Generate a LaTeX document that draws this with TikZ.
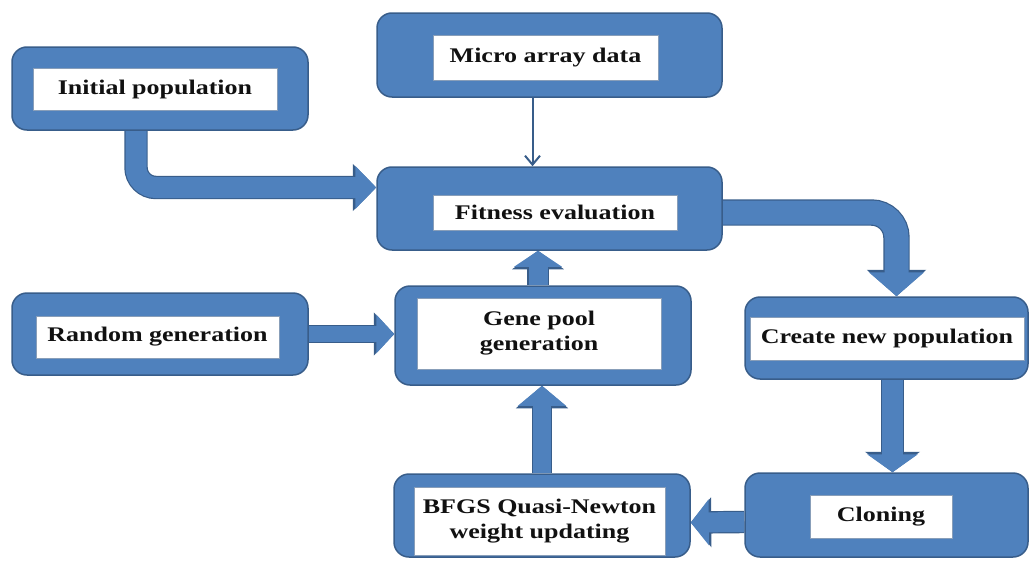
\documentclass[tikz,border=0pt]{standalone}
\usepackage{fontspec}
\setmainfont{Liberation Serif}[FakeStretch=1.25]
\usetikzlibrary{arrows.meta,calc}
\definecolor{boxblue}{HTML}{4F81BD}
\definecolor{edgeblue}{HTML}{385D8A}
\definecolor{txt}{HTML}{111111}
\pgfdeclarelayer{bg}
\pgfsetlayers{bg,main}
\tikzset{
  outerbox/.style={rectangle, rounded corners=15pt, fill=boxblue, draw=edgeblue, line width=1.5pt, inner sep=0pt},
  innerbox/.style={rectangle, fill=white, draw=edgeblue!60, line width=0.6pt, inner sep=0pt, align=center,
     text=txt, font=\fontsize{20.8}{25}\selectfont\bfseries},
  blockedge/.style n args={3}{draw=edgeblue, line width=#1+2.4pt, -{Triangle[width=#2+4pt,length=#3+2.5pt]}},
  blockfill/.style n args={3}{draw=boxblue, line width=#1, -{Triangle[width=#2,length=#3]}},
  thinarrow/.style={draw=edgeblue, line width=2pt, -{Straight Barb[width=15pt,length=9pt]}}
}
\begin{document}
\begin{tikzpicture}[x=1pt,y=-1pt]
\path[use as bounding box] (0,0) rectangle (1029,562);

% outer boxes
\node[outerbox, minimum width=296pt, minimum height=83pt] (initO) at (160,88.5) {};
\node[outerbox, minimum width=345pt, minimum height=84pt] (microO) at (549.5,55) {};
\node[outerbox, minimum width=345pt, minimum height=83pt] (fitO) at (549.5,208.5) {};
\node[outerbox, minimum width=296pt, minimum height=82pt] (randO) at (160,334) {};
\node[outerbox, minimum width=296pt, minimum height=99pt] (geneO) at (543,335.5) {};
\node[outerbox, minimum width=283pt, minimum height=82pt] (crO) at (886.5,338) {};
\node[outerbox, minimum width=283pt, minimum height=84pt] (clO) at (886.5,515) {};
\node[outerbox, minimum width=296pt, minimum height=83pt] (bfO) at (542,515.5) {};

% inner boxes with text
\node[innerbox, minimum width=244pt, minimum height=42pt] (init) at (155,89) {Initial population};
\node[innerbox, minimum width=225pt, minimum height=45pt] (micro) at (545.5,57.5) {Micro array data};
\node[innerbox, minimum width=244pt, minimum height=35pt] (fit) at (555,212.5) {Fitness evaluation};
\node[innerbox, minimum width=243pt, minimum height=42pt] (rand) at (157.5,337) {Random generation};
\node[innerbox, minimum width=244pt, minimum height=71pt] (gene) at (539,333.5) {Gene pool\\generation};
\node[innerbox, minimum width=274pt, minimum height=43pt] (cr) at (887,338.5) {Create new population};
\node[innerbox, minimum width=142pt, minimum height=43pt] (cl) at (881,516.5) {Cloning};
\node[innerbox, minimum width=251pt, minimum height=68pt] (bf) at (539.5,521) {BFGS Quasi-Newton\\weight updating};

\begin{pgfonlayer}{bg}
% Initial population -> Fitness evaluation
\draw[blockedge={21pt}{42pt}{21pt}, rounded corners=20pt] ([xshift=-24pt]initO.south) |- ([yshift=21pt]fitO.west);
\draw[blockfill={21pt}{42pt}{21pt}, rounded corners=20pt] ([xshift=-24pt]initO.south) |- ([yshift=21pt]fitO.west);
% Fitness evaluation -> Create new population
\draw[blockedge={24pt}{54pt}{24pt}, rounded corners=25pt] ([yshift=-4pt]fitO.east) -| ([xshift=10pt]crO.north);
\draw[blockfill={24pt}{54pt}{24pt}, rounded corners=25pt] ([yshift=-4pt]fitO.east) -| ([xshift=10pt]crO.north);
% Create new population -> Cloning
\draw[blockedge={21pt}{50pt}{18pt}] ([xshift=6pt]crO.south) -- ([xshift=6pt]clO.north);
\draw[blockfill={21pt}{50pt}{18pt}] ([xshift=6pt]crO.south) -- ([xshift=6pt]clO.north);
% Cloning -> BFGS
\draw[blockedge={20pt}{45pt}{18pt}] ([yshift=-7pt]clO.west) -- ([yshift=-7pt]bfO.east);
\draw[blockfill={20pt}{45pt}{18pt}] ([yshift=-7pt]clO.west) -- ([yshift=-7pt]bfO.east);
% BFGS -> Gene pool
\draw[blockedge={18pt}{47pt}{20pt}] (bfO.north) -- (bfO.north |- geneO.south);
\draw[blockfill={18pt}{47pt}{20pt}] (bfO.north) -- (bfO.north |- geneO.south);
% Gene pool -> Fitness
\draw[blockedge={19pt}{47pt}{16pt}] ([xshift=-5pt]geneO.north) -- ([xshift=-5pt]geneO.north |- fitO.south);
\draw[blockfill={19pt}{47pt}{16pt}] ([xshift=-5pt]geneO.north) -- ([xshift=-5pt]geneO.north |- fitO.south);
% Random generation -> Gene pool
\draw[blockedge={16pt}{38pt}{18pt}] (randO.east) -- (randO.east -| geneO.west);
\draw[blockfill={16pt}{38pt}{18pt}] (randO.east) -- (randO.east -| geneO.west);
\end{pgfonlayer}

% Micro array data -> Fitness evaluation
\draw[thinarrow] ([xshift=-17pt]microO.south) -- ([xshift=-17pt]fitO.north);
\end{tikzpicture}
\end{document}
